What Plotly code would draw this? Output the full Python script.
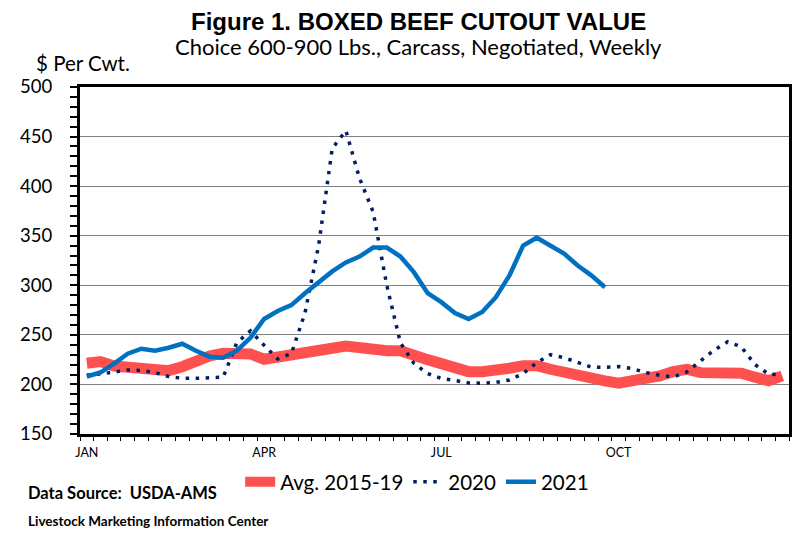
import plotly.graph_objects as go

weeks = list(range(1, 53))

avg_2015_19 = [221.3, 223, 218.6, 217.3, 217.3, 213.9, 213.9, 217.9, 224, 228.7,
               231.4, 232, 230.7, 225.4, 227.4, 228, 229.7, 232, 236.5, 238.8,
               236.5, 234, 234, 234, 230.7, 225, 221, 216.3, 212.9, 212.9,
               213.6, 216.3, 218.9, 218.9, 215.3, 211.9, 208.6, 205.8, 203.5, 201.2,
               202.8, 205.5, 208.6, 212.9, 215.3, 211.9, 211.9, 211.9, 211.3, 207.3,
               203.8, 208.6]

y2020 = [209.6, 210.5, 212.5, 214.6, 214, 212, 208, 206.2, 206.2, 207,
         207.3, 242, 254, 239.5, 225.7, 231, 272, 340, 438, 456,
         408, 374, 300, 242, 221, 211, 206, 204, 201.5, 201.2,
         202, 204.5, 211, 222, 230, 227, 222.5, 217.5, 217.3, 218,
         216, 212, 209.3, 207.5, 212.5, 223.5, 234.5, 243, 238, 220,
         210.5, 209.6]

y2021 = [208, 212, 221, 231, 236, 234, 237, 241, 234, 228,
         227, 234, 247, 266, 274, 280, 292, 303, 314, 323,
         329, 338, 338, 329, 313, 292, 283, 272, 266, 273,
         288, 310, 340, 348, 340, 332, 320, 310, 298]

x_tick_vals = [1, 14, 27, 40]
x_tick_text = ["JAN", "APR", "JUL", "OCT"]
y_tick_vals = [150, 200, 250, 300, 350, 400, 450, 500]

# the page adds an 8px body margin, so the figure is drawn 8px right/down
OFF = 8
W, H = 804 - OFF, 535 - OFF
PLOT_LEFT, PLOT_RIGHT, PLOT_TOP, PLOT_BOTTOM = 74, 791, 87, 434  # page pixels
L, R = PLOT_LEFT - OFF, 804 - PLOT_RIGHT
T, B = PLOT_TOP - OFF, 535 - PLOT_BOTTOM
PW, PH = PLOT_RIGHT - PLOT_LEFT, PLOT_BOTTOM - PLOT_TOP


def px_x(px):
    return (px - PLOT_LEFT) / PW


def px_y(py):
    return (PLOT_BOTTOM - py) / PH


fig = go.Figure()
fig.add_trace(go.Scatter(x=weeks, y=avg_2015_19, mode="lines", name="Avg. 2015-19",
                         line=dict(color="#FF5050", width=11)))
fig.add_trace(go.Scatter(x=weeks, y=y2020, mode="lines", name="2020",
                         line=dict(color="#002060", width=3.5, dash="3.5px,6.5px")))
fig.add_trace(go.Scatter(x=weeks[:len(y2021)], y=y2021, mode="lines", name="2021",
                         line=dict(color="#0070C0", width=4.5)))

fig.update_layout(
    width=W, height=H,
    margin=dict(l=L, r=R, t=T, b=B),
    paper_bgcolor="white", plot_bgcolor="white",
    showlegend=True,
    legend=dict(orientation="h", x=px_x(236), xanchor="left", y=px_y(482), yanchor="middle",
                font=dict(family="Lato", size=20.5, color="black"),
                bgcolor="rgba(0,0,0,0)", itemwidth=30, tracegroupgap=0),
    xaxis=dict(range=[0.5, 52.5], showline=True, linewidth=3, linecolor="black", mirror=True,
               showgrid=False, zeroline=False, tickmode="array", tickvals=x_tick_vals,
               ticktext=x_tick_text, ticks="", ticklabelstandoff=5,
               tickfont=dict(family="Lato", size=12.5, color="black"),
               minor=dict(ticks="outside", ticklen=4, tickwidth=1, tickcolor="black",
                          tick0=0.5, dtick=1, showgrid=False)),
    yaxis=dict(range=[150, 500], showline=True, linewidth=3, linecolor="black", mirror=True,
               showgrid=True, gridcolor="#808080", gridwidth=1, zeroline=False,
               tickmode="array", tickvals=y_tick_vals, ticks="outside", ticklen=7,
               tickwidth=1.5, tickcolor="black", ticklabelstandoff=14,
               tickfont=dict(family="Lato", size=18.5, color="black"),
               minor=dict(ticks="outside", ticklen=7, tickwidth=1.5, tickcolor="black",
                          dtick=10, tick0=150, showgrid=False)),
    annotations=[
        dict(text="<b>Figure 1. BOXED BEEF CUTOUT VALUE</b>", x=px_x(416), y=px_y(21),
             xref="paper", yref="paper", xanchor="center", yanchor="middle", showarrow=False,
             font=dict(family="Liberation Sans", size=24, color="black")),
        dict(text="Choice 600-900 Lbs., Carcass, Negotiated, Weekly", x=px_x(416), y=px_y(47),
             xref="paper", yref="paper", xanchor="center", yanchor="middle", showarrow=False,
             font=dict(family="Lato", size=22, color="black")),
        dict(text="$ Per Cwt.", x=px_x(27), y=px_y(63),
             xref="paper", yref="paper", xanchor="left", yanchor="middle", showarrow=False,
             font=dict(family="Lato", size=20.5, color="black")),
        dict(text="<b>Data Source:&nbsp; USDA-AMS</b>", x=px_x(19), y=px_y(493),
             xref="paper", yref="paper", xanchor="left", yanchor="middle", showarrow=False,
             font=dict(family="Lato", size=16.5, color="black")),
        dict(text="<b>Livestock Marketing Information Center</b>", x=px_x(19), y=px_y(521),
             xref="paper", yref="paper", xanchor="left", yanchor="middle", showarrow=False,
             font=dict(family="Lato", size=13.5, color="black")),
    ],
)

fig.write_html("out.html")
